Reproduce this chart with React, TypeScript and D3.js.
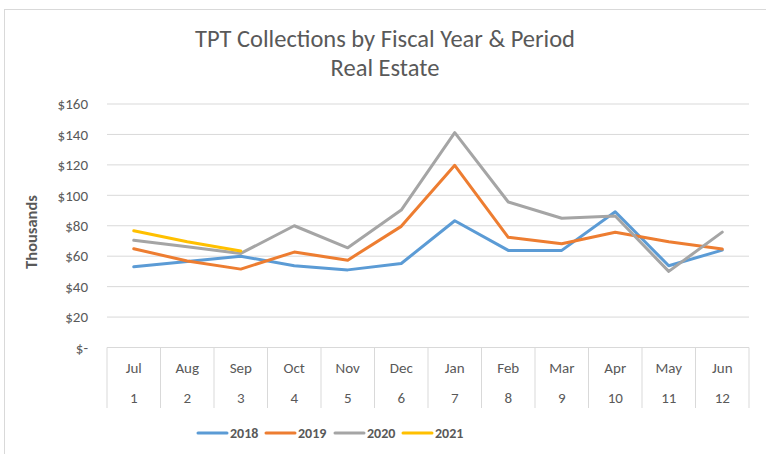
import React from "react";
import * as d3 from "d3";

const months = ["Jul", "Aug", "Sep", "Oct", "Nov", "Dec", "Jan", "Feb", "Mar", "Apr", "May", "Jun"];
const periods = ["1", "2", "3", "4", "5", "6", "7", "8", "9", "10", "11", "12"];
const yTicks = [0, 20, 40, 60, 80, 100, 120, 140, 160];

const s2018 = [53, 56.5, 60, 53.7, 51, 55.2, 83.3, 63.8, 63.8, 89.2, 53.7, 64];
const s2019 = [64.9, 56.8, 51.5, 62.7, 57.4, 79.6, 119.7, 72.4, 68.2, 75.7, 69.5, 64.7];
const s2020 = [70.4, 66.2, 61.8, 80, 65.5, 90.3, 141.2, 95.6, 84.9, 86.4, 50, 75.8];
const s2021 = [76.7, 69.5, 63.4];

const seriesNames = ["2018", "2019", "2020", "2021"];
const seriesColors = ["#5B9BD5", "#ED7D31", "#A5A5A5", "#FFC000"];
const seriesData = [s2018, s2019, s2020, s2021];

const W = 766, H = 454;
const plotLeft = 107, plotRight = 749, plotTop = 104, plotBottom = 347.5;
const FONT = "Carlito, Calibri, Lato, 'Open Sans', sans-serif";
const TXT = "#595959";

export default function App() {
  const x = d3.scaleBand<string>().domain(months).range([plotLeft, plotRight]);
  const y = d3.scaleLinear().domain([0, 160]).range([plotBottom, plotTop]);
  const line = d3
    .line<number>()
    .x((_, i) => (x(months[i]) as number) + x.bandwidth() / 2)
    .y((d) => y(d));

  const boundaries = months.map((m) => x(m) as number).concat([plotRight]);
  const legendX = [198, 266, 335, 403];

  return (
    <svg
      width={W}
      height={H}
      style={{ position: "absolute", left: 0, top: 0, background: "#fff" }}
      fontFamily={FONT}
    >
      <rect x={0} y={0} width={W} height={H} fill="#fff" />
      <rect x={4.5} y={9.5} width={900} height={600} fill="none" stroke="#D9D9D9" strokeWidth={1} />

      <text x={385} y={47} textAnchor="middle" fontSize={24.5} fill={TXT}>
        TPT Collections by Fiscal Year &amp; Period
      </text>
      <text x={385} y={76} textAnchor="middle" fontSize={24.5} fill={TXT}>
        Real Estate
      </text>

      {yTicks.map((t) => (
        <g key={t}>
          {t > 0 && (
            <line x1={plotLeft} x2={plotRight} y1={y(t)} y2={y(t)} stroke="#D9D9D9" strokeWidth={1} />
          )}
          <text x={88} y={y(t)} dy="0.35em" textAnchor="end" fontSize={15} fill={TXT}>
            {t === 0 ? "$-" : `$${t}`}
          </text>
        </g>
      ))}

      <line x1={plotLeft} x2={plotRight} y1={plotBottom} y2={plotBottom} stroke="#D9D9D9" strokeWidth={1} />
      {boundaries.map((bx, i) => (
        <line key={i} x1={bx} x2={bx} y1={plotBottom} y2={408} stroke="#D9D9D9" strokeWidth={1} />
      ))}
      {months.map((m, i) => (
        <g key={m}>
          <text
            x={(x(m) as number) + x.bandwidth() / 2}
            y={368}
            dy="0.35em"
            textAnchor="middle"
            fontSize={15}
            fill={TXT}
          >
            {m}
          </text>
          <text
            x={(x(m) as number) + x.bandwidth() / 2}
            y={398}
            dy="0.35em"
            textAnchor="middle"
            fontSize={15}
            fill={TXT}
          >
            {periods[i]}
          </text>
        </g>
      ))}

      <text
        transform="translate(31,232) rotate(-90)"
        textAnchor="middle"
        dy="0.35em"
        fontSize={16.5}
        fontWeight="bold"
        fill={TXT}
      >
        Thousands
      </text>

      {seriesData.map((d, i) => (
        <path
          key={seriesNames[i]}
          d={line(d) || ""}
          fill="none"
          stroke={seriesColors[i]}
          strokeWidth={3}
          strokeLinejoin="round"
          strokeLinecap="round"
        />
      ))}

      {seriesNames.map((n, i) => (
        <g key={n}>
          <line
            x1={legendX[i]}
            x2={legendX[i] + 29}
            y1={433}
            y2={433}
            stroke={seriesColors[i]}
            strokeWidth={3}
            strokeLinecap="round"
          />
          <text x={legendX[i] + 32} y={433} dy="0.35em" fontSize={14} fontWeight="bold" fill={TXT}>
            {n}
          </text>
        </g>
      ))}
    </svg>
  );
}
